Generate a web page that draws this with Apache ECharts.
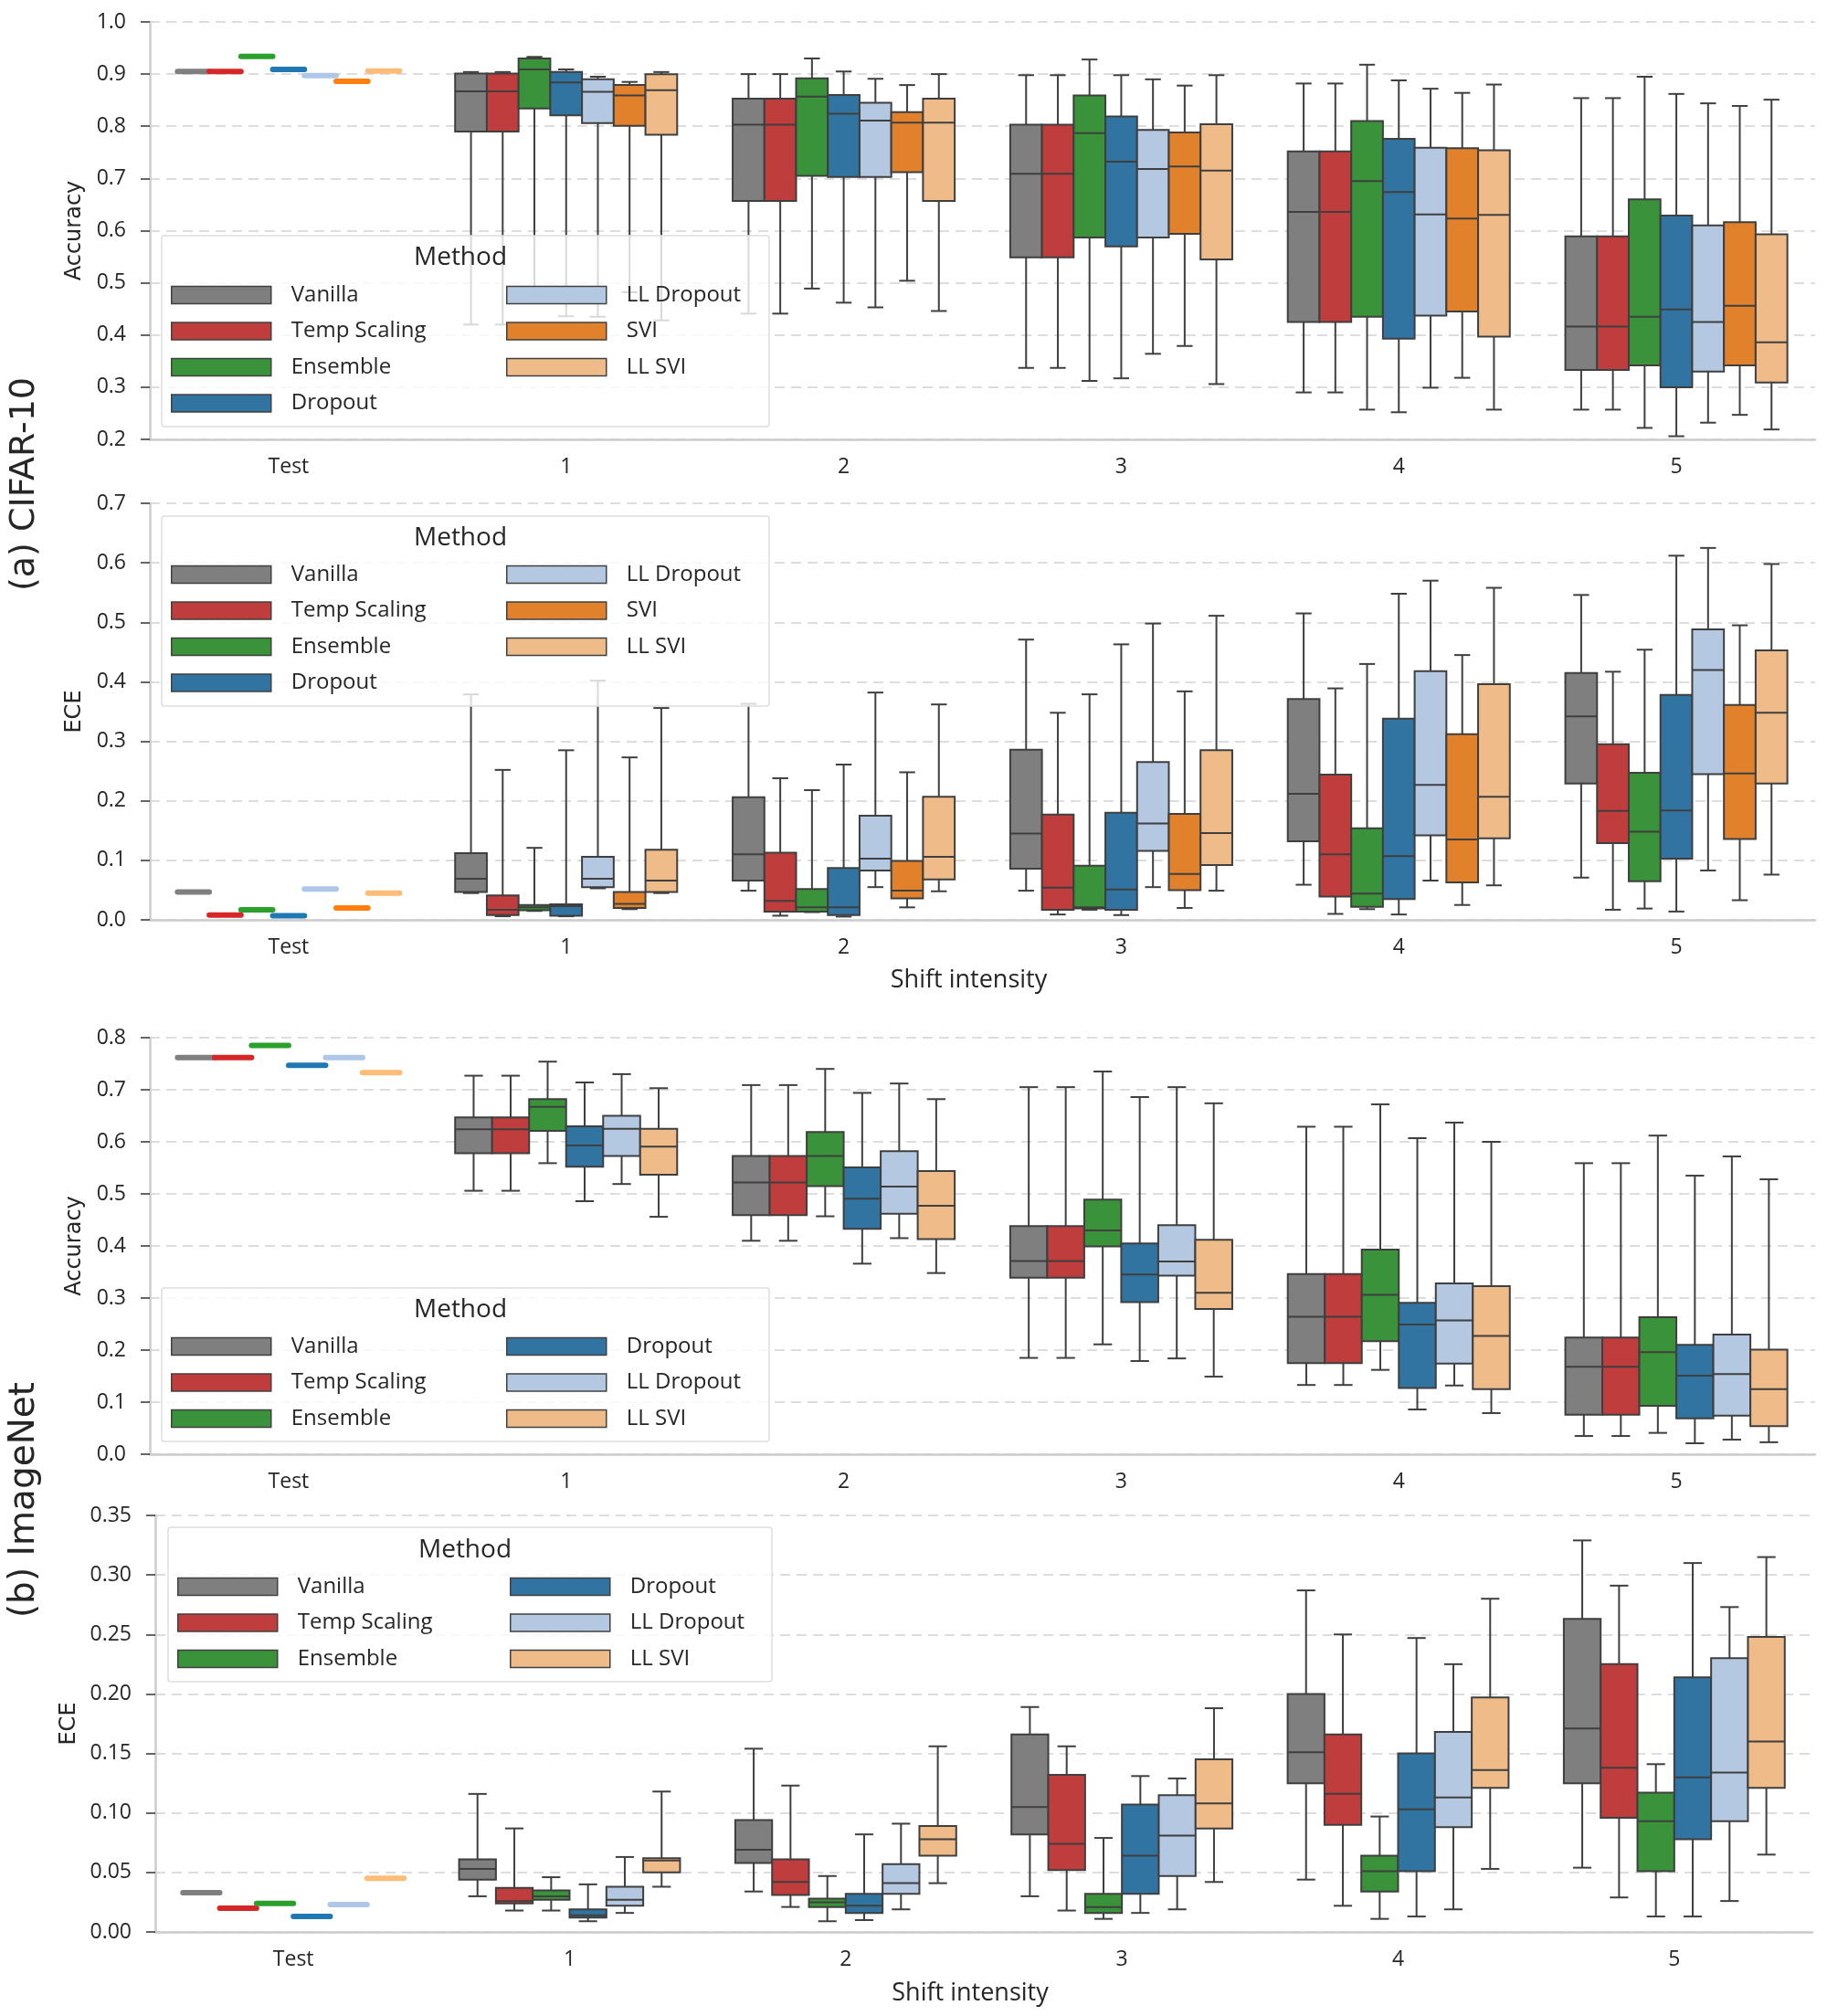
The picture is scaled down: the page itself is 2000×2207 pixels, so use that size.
<!DOCTYPE html>
<html>
<head>
<meta charset="utf-8">
<title>Accuracy and ECE under dataset shift</title>
<script src="https://cdn.jsdelivr.net/npm/echarts@6/dist/echarts.min.js"></script>
<style>
  html, body { margin: 0; padding: 0; background: #fff; }
  #main { width: 2000px; height: 2207px; }
</style>
</head>
<body>
<div id="main"></div>
<script>
const categories = ['Test', '1', '2', '3', '4', '5'];
const cifarMethods = ['Vanilla', 'Temp Scaling', 'Ensemble', 'Dropout', 'LL Dropout', 'SVI', 'LL SVI'];
const imagenetMethods = ['Vanilla', 'Temp Scaling', 'Ensemble', 'Dropout', 'LL Dropout', 'LL SVI'];

// test value per method, then per method one row per shift 1..5:
// [lower whisker, q1, median, q3, upper whisker]

// (a) CIFAR-10 accuracy
const cifarAccTest = [0.905, 0.905, 0.934, 0.909, 0.897, 0.886, 0.906];
const cifarAccVanilla = [[0.420, 0.790, 0.867, 0.901, 0.904], [0.441, 0.657, 0.803, 0.853, 0.900], [0.337, 0.549, 0.709, 0.803, 0.898], [0.290, 0.425, 0.636, 0.752, 0.882], [0.257, 0.333, 0.416, 0.589, 0.854]];
const cifarAccTemp = [[0.420, 0.790, 0.867, 0.901, 0.904], [0.441, 0.657, 0.803, 0.853, 0.900], [0.337, 0.549, 0.709, 0.803, 0.898], [0.290, 0.425, 0.636, 0.752, 0.882], [0.257, 0.333, 0.416, 0.589, 0.854]];
const cifarAccEnsemble = [[0.470, 0.834, 0.909, 0.930, 0.933], [0.489, 0.705, 0.857, 0.892, 0.930], [0.312, 0.587, 0.787, 0.859, 0.928], [0.257, 0.435, 0.695, 0.810, 0.918], [0.222, 0.342, 0.435, 0.660, 0.895]];
const cifarAccDropout = [[0.436, 0.821, 0.884, 0.904, 0.909], [0.462, 0.703, 0.824, 0.860, 0.905], [0.317, 0.570, 0.732, 0.819, 0.898], [0.252, 0.393, 0.674, 0.776, 0.888], [0.206, 0.300, 0.449, 0.629, 0.862]];
const cifarAccLLDropout = [[0.435, 0.806, 0.866, 0.890, 0.895], [0.453, 0.703, 0.811, 0.845, 0.891], [0.364, 0.587, 0.718, 0.793, 0.890], [0.299, 0.437, 0.631, 0.759, 0.872], [0.232, 0.330, 0.425, 0.610, 0.844]];
const cifarAccSVI = [[0.482, 0.801, 0.859, 0.879, 0.885], [0.504, 0.712, 0.807, 0.827, 0.879], [0.379, 0.594, 0.723, 0.788, 0.878], [0.318, 0.445, 0.623, 0.758, 0.864], [0.247, 0.342, 0.456, 0.616, 0.839]];
const cifarAccLLSVI = [[0.428, 0.784, 0.869, 0.900, 0.904], [0.446, 0.657, 0.807, 0.853, 0.900], [0.306, 0.545, 0.715, 0.804, 0.898], [0.257, 0.397, 0.630, 0.754, 0.880], [0.219, 0.309, 0.386, 0.593, 0.851]];

// (a) CIFAR-10 ECE
const cifarEceTest = [0.047, 0.008, 0.017, 0.007, 0.052, 0.020, 0.045];
const cifarEceVanilla = [[0.045, 0.047, 0.069, 0.112, 0.379], [0.049, 0.066, 0.110, 0.206, 0.363], [0.049, 0.086, 0.145, 0.286, 0.471], [0.059, 0.132, 0.212, 0.371, 0.515], [0.071, 0.229, 0.342, 0.415, 0.546]];
const cifarEceTemp = [[0.006, 0.008, 0.017, 0.041, 0.252], [0.007, 0.014, 0.032, 0.113, 0.238], [0.009, 0.017, 0.054, 0.177, 0.348], [0.010, 0.039, 0.110, 0.244, 0.389], [0.017, 0.129, 0.183, 0.295, 0.417]];
const cifarEceEnsemble = [[0.015, 0.016, 0.021, 0.025, 0.121], [0.013, 0.014, 0.021, 0.052, 0.218], [0.017, 0.019, 0.021, 0.091, 0.379], [0.018, 0.022, 0.044, 0.154, 0.430], [0.019, 0.065, 0.148, 0.247, 0.454]];
const cifarEceDropout = [[0.006, 0.007, 0.023, 0.026, 0.285], [0.0055, 0.008, 0.021, 0.087, 0.261], [0.008, 0.017, 0.051, 0.180, 0.463], [0.009, 0.035, 0.107, 0.338, 0.548], [0.014, 0.103, 0.184, 0.378, 0.612]];
const cifarEceLLDropout = [[0.053, 0.055, 0.069, 0.106, 0.402], [0.055, 0.083, 0.103, 0.175, 0.382], [0.055, 0.116, 0.162, 0.265, 0.498], [0.066, 0.142, 0.227, 0.418, 0.570], [0.083, 0.245, 0.420, 0.488, 0.625]];
const cifarEceSVI = [[0.018, 0.020, 0.027, 0.047, 0.273], [0.021, 0.036, 0.049, 0.099, 0.248], [0.020, 0.050, 0.077, 0.178, 0.384], [0.025, 0.063, 0.135, 0.312, 0.445], [0.033, 0.136, 0.246, 0.361, 0.495]];
const cifarEceLLSVI = [[0.045, 0.047, 0.066, 0.118, 0.356], [0.048, 0.068, 0.106, 0.207, 0.362], [0.049, 0.092, 0.146, 0.285, 0.511], [0.058, 0.137, 0.207, 0.396, 0.558], [0.076, 0.229, 0.348, 0.453, 0.598]];

// (b) ImageNet accuracy
const imnAccTest = [0.762, 0.762, 0.785, 0.747, 0.762, 0.733];
const imnAccVanilla = [[0.506, 0.578, 0.624, 0.647, 0.727], [0.410, 0.459, 0.522, 0.573, 0.709], [0.185, 0.339, 0.371, 0.438, 0.705], [0.133, 0.175, 0.264, 0.346, 0.629], [0.035, 0.076, 0.168, 0.224, 0.559]];
const imnAccTemp = [[0.506, 0.578, 0.624, 0.647, 0.727], [0.410, 0.459, 0.522, 0.573, 0.709], [0.185, 0.339, 0.371, 0.438, 0.705], [0.133, 0.175, 0.264, 0.346, 0.629], [0.035, 0.076, 0.168, 0.224, 0.559]];
const imnAccEnsemble = [[0.559, 0.621, 0.667, 0.682, 0.754], [0.457, 0.515, 0.573, 0.619, 0.740], [0.211, 0.399, 0.430, 0.489, 0.735], [0.162, 0.217, 0.306, 0.393, 0.672], [0.041, 0.093, 0.196, 0.263, 0.612]];
const imnAccDropout = [[0.486, 0.552, 0.593, 0.630, 0.714], [0.366, 0.433, 0.491, 0.551, 0.694], [0.179, 0.292, 0.345, 0.405, 0.686], [0.086, 0.127, 0.249, 0.291, 0.607], [0.021, 0.069, 0.151, 0.210, 0.535]];
const imnAccLLDropout = [[0.519, 0.573, 0.625, 0.650, 0.730], [0.415, 0.462, 0.514, 0.582, 0.712], [0.184, 0.343, 0.370, 0.440, 0.705], [0.132, 0.174, 0.257, 0.328, 0.637], [0.028, 0.074, 0.154, 0.230, 0.572]];
const imnAccLLSVI = [[0.456, 0.537, 0.591, 0.625, 0.703], [0.348, 0.413, 0.477, 0.544, 0.682], [0.149, 0.279, 0.310, 0.412, 0.674], [0.079, 0.125, 0.227, 0.323, 0.600], [0.023, 0.054, 0.125, 0.201, 0.528]];

// (b) ImageNet ECE
const imnEceTest = [0.033, 0.020, 0.024, 0.013, 0.023, 0.045];
const imnEceVanilla = [[0.030, 0.044, 0.053, 0.061, 0.116], [0.034, 0.058, 0.069, 0.094, 0.154], [0.030, 0.082, 0.105, 0.166, 0.189], [0.044, 0.125, 0.151, 0.200, 0.287], [0.054, 0.125, 0.171, 0.263, 0.329]];
const imnEceTemp = [[0.018, 0.024, 0.026, 0.037, 0.087], [0.021, 0.031, 0.042, 0.061, 0.123], [0.018, 0.052, 0.074, 0.132, 0.156], [0.022, 0.090, 0.116, 0.166, 0.250], [0.029, 0.096, 0.138, 0.225, 0.291]];
const imnEceEnsemble = [[0.018, 0.027, 0.030, 0.035, 0.046], [0.009, 0.021, 0.025, 0.028, 0.047], [0.011, 0.016, 0.021, 0.032, 0.079], [0.011, 0.034, 0.051, 0.064, 0.097], [0.013, 0.051, 0.093, 0.117, 0.141]];
const imnEceDropout = [[0.009, 0.012, 0.014, 0.019, 0.040], [0.010, 0.016, 0.022, 0.032, 0.082], [0.016, 0.032, 0.064, 0.107, 0.131], [0.013, 0.051, 0.103, 0.150, 0.247], [0.013, 0.078, 0.130, 0.214, 0.310]];
const imnEceLLDropout = [[0.016, 0.022, 0.027, 0.038, 0.063], [0.019, 0.032, 0.041, 0.057, 0.091], [0.019, 0.047, 0.081, 0.115, 0.129], [0.019, 0.088, 0.113, 0.168, 0.225], [0.026, 0.093, 0.134, 0.230, 0.273]];
const imnEceLLSVI = [[0.038, 0.050, 0.060, 0.062, 0.118], [0.041, 0.064, 0.078, 0.089, 0.156], [0.042, 0.087, 0.108, 0.145, 0.188], [0.053, 0.121, 0.136, 0.197, 0.280], [0.065, 0.121, 0.160, 0.248, 0.315]];

// colours: desaturated boxes, full colour for the test lines
const boxColors = {
  'Vanilla': '#7f7f7f', 'Temp Scaling': '#c03d3e', 'Ensemble': '#3a923a', 'Dropout': '#3274a1',
  'LL Dropout': '#b5c8e1', 'SVI': '#e1812c', 'LL SVI': '#eebb89'
};
const testColors = {
  'Vanilla': '#7f7f7f', 'Temp Scaling': '#d62728', 'Ensemble': '#2ca02c', 'Dropout': '#1f77b4',
  'LL Dropout': '#aec7e8', 'SVI': '#ff7f0e', 'LL SVI': '#ffbb78'
};
const EDGE = '#3f3f3f';
const TXT = '#262626';
const FONT = '"Open Sans", "Liberation Sans", sans-serif';
const WIDE = '"DejaVu Sans", sans-serif';

const panels = [
  { methods: cifarMethods, test: cifarAccTest,
    boxes: [cifarAccVanilla, cifarAccTemp, cifarAccEnsemble, cifarAccDropout, cifarAccLLDropout, cifarAccSVI, cifarAccLLSVI],
    grid: { left: 164, top: 24, width: 1823, height: 457 },
    min: 0.2, max: 1.0, step: 0.1, digits: 1, yName: 'Accuracy', xName: '',
    legend: { frame: [177, 258, 665, 209], title: [504, 282], top: 311, cols: [187, 554], split: 4 } },
  { methods: cifarMethods, test: cifarEceTest,
    boxes: [cifarEceVanilla, cifarEceTemp, cifarEceEnsemble, cifarEceDropout, cifarEceLLDropout, cifarEceSVI, cifarEceLLSVI],
    grid: { left: 164, top: 551, width: 1823, height: 456 },
    min: 0, max: 0.7, step: 0.1, digits: 1, yName: 'ECE', xName: 'Shift intensity', xNameGap: 53,
    legend: { frame: [177, 565, 665, 208], title: [504, 589], top: 617, cols: [187, 554], split: 4 } },
  { methods: imagenetMethods, test: imnAccTest,
    boxes: [imnAccVanilla, imnAccTemp, imnAccEnsemble, imnAccDropout, imnAccLLDropout, imnAccLLSVI],
    grid: { left: 164, top: 1136, width: 1823, height: 456 },
    min: 0, max: 0.8, step: 0.1, digits: 1, yName: 'Accuracy', xName: '',
    legend: { frame: [177, 1410, 665, 168], title: [504, 1434], top: 1462, cols: [187, 554], split: 3 } },
  { methods: imagenetMethods, test: imnEceTest,
    boxes: [imnEceVanilla, imnEceTemp, imnEceEnsemble, imnEceDropout, imnEceLLDropout, imnEceLLSVI],
    grid: { left: 170, top: 1659, width: 1814, height: 456 },
    min: 0, max: 0.35, step: 0.05, digits: 2, yName: 'ECE', xName: 'Shift intensity', xNameGap: 54,
    legend: { frame: [184, 1672, 661, 169], title: [509, 1697], top: 1725, cols: [194, 558], split: 3 } }
];

// one box per method, side by side inside the category band (seaborn style, no gaps)
function makeRender(k, n, fill, testColor) {
  return function (params, api) {
    const ci = api.value(0);
    const band = api.size([1, 0])[0];
    const w = band * 0.8 / n;
    const cx = api.coord([ci, api.value(3)])[0] - band * 0.4 + w * (k + 0.5);
    const py = j => api.coord([ci, api.value(j)])[1];
    const lo = py(1), q1 = py(2), md = py(3), q3 = py(4), hi = py(5);
    if (api.value(1) === api.value(5)) {
      return {
        type: 'line',
        shape: { x1: cx - w / 2, y1: md, x2: cx + w / 2, y2: md },
        style: { stroke: testColor, lineWidth: 6, lineCap: 'round' }
      };
    }
    const ls = { stroke: EDGE, lineWidth: 2 };
    return {
      type: 'group',
      children: [
        { type: 'line', shape: { x1: cx, y1: hi, x2: cx, y2: q3 }, style: ls },
        { type: 'line', shape: { x1: cx, y1: q1, x2: cx, y2: lo }, style: ls },
        { type: 'line', shape: { x1: cx - w / 4, y1: hi, x2: cx + w / 4, y2: hi }, style: ls },
        { type: 'line', shape: { x1: cx - w / 4, y1: lo, x2: cx + w / 4, y2: lo }, style: ls },
        { type: 'rect', shape: { x: cx - w / 2, y: q3, width: w, height: q1 - q3 },
          style: { fill: fill, stroke: EDGE, lineWidth: 2 } },
        { type: 'line', shape: { x1: cx - w / 2, y1: md, x2: cx + w / 2, y2: md }, style: ls }
      ]
    };
  };
}

const grids = [], xAxes = [], yAxes = [], series = [], legends = [], graphics = [];

panels.forEach((p, pi) => {
  grids.push(p.grid);
  xAxes.push({
    type: 'category', gridIndex: pi, data: categories,
    name: p.xName, nameLocation: 'middle', nameGap: p.xNameGap || 0,
    nameTextStyle: { fontFamily: FONT, fontSize: 27, color: TXT, padding: [0, 30, 0, 0] },
    axisLine: { lineStyle: { color: '#cccccc', width: 2.5 } },
    axisTick: { alignWithLabel: true, length: 9, lineStyle: { color: '#333', width: 1.5 } },
    axisLabel: { fontFamily: FONT, fontSize: 23, color: TXT, margin: 19 },
    splitLine: { show: false }
  });
  yAxes.push({
    type: 'value', gridIndex: pi, min: p.min, max: p.max, interval: p.step,
    name: p.yName, nameLocation: 'middle', nameGap: 70,
    nameTextStyle: { fontFamily: WIDE, fontSize: 24, color: TXT },
    axisLine: { show: true, lineStyle: { color: '#cccccc', width: 2.5 } },
    axisTick: { show: true, length: 10, lineStyle: { color: '#333', width: 1.5 } },
    axisLabel: { fontFamily: FONT, fontSize: 23, color: TXT, margin: 26,
      formatter: v => v.toFixed(p.digits) },
    splitLine: { lineStyle: { color: '#d2d2d2', width: 1.6, type: [11, 7] } }
  });

  p.methods.forEach((m, k) => {
    const t = p.test[k];
    const rows = [[0, t, t, t, t, t]].concat(p.boxes[k].map((r, i) => [i + 1].concat(r)));
    series.push({
      type: 'custom', name: m, xAxisIndex: pi, yAxisIndex: pi, z: 2,
      itemStyle: { color: boxColors[m] },
      encode: { x: 0, y: [1, 2, 3, 4, 5] },
      renderItem: makeRender(k, p.methods.length, boxColors[m], testColors[m]),
      data: rows
    });
  });

  const L = p.legend;
  [p.methods.slice(0, L.split), p.methods.slice(L.split)].forEach((names, c) => {
    legends.push({
      data: names, orient: 'vertical', left: L.cols[c], top: L.top, padding: 0,
      icon: 'rect', itemWidth: 109, itemHeight: 19, itemGap: 15.5,
      itemStyle: { borderColor: '#404040', borderWidth: 1.5 },
      textStyle: { fontFamily: FONT, fontSize: 24, color: TXT, lineHeight: 20, padding: [0, 0, 0, 17] },
      selectedMode: false
    });
  });
  graphics.push({
    type: 'rect', z: 3,
    shape: { x: L.frame[0], y: L.frame[1], width: L.frame[2], height: L.frame[3], r: 3 },
    style: { fill: 'rgba(255,255,255,0.8)', stroke: '#dedede', lineWidth: 1.5 }
  });
  graphics.push({
    type: 'text', z: 5, x: L.title[0], y: L.title[1],
    style: { text: 'Method', fontFamily: FONT, fontSize: 28, fill: TXT, align: 'center', verticalAlign: 'middle' }
  });
});

graphics.push({
  type: 'text', x: 27, y: 530, rotation: Math.PI / 2,
  style: { text: '(a) CIFAR-10', fontFamily: WIDE, fontSize: 38, fill: TXT, align: 'center', verticalAlign: 'middle' }
});
graphics.push({
  type: 'text', x: 27, y: 1642, rotation: Math.PI / 2,
  style: { text: '(b) ImageNet', fontFamily: WIDE, fontSize: 39, fill: TXT, align: 'center', verticalAlign: 'middle' }
});

const chart = echarts.init(document.getElementById('main'));
chart.setOption({
  animation: false,
  backgroundColor: '#ffffff',
  grid: grids,
  xAxis: xAxes,
  yAxis: yAxes,
  legend: legends,
  graphic: { elements: graphics },
  series: series
});
</script>
</body>
</html>
